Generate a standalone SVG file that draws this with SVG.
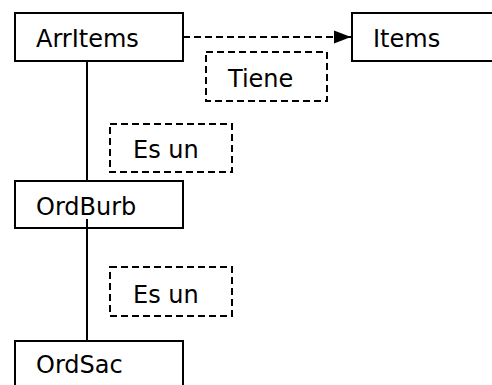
<svg xmlns="http://www.w3.org/2000/svg" width="492" height="385" viewBox="0 0 492 385">
<style>
.node rect{fill:#fff;stroke:#000;stroke-width:2}
.lbl rect{fill:none;stroke:#000;stroke-width:2;stroke-dasharray:7,4}
text{font-family:"DejaVu Sans",Verdana,sans-serif;font-size:24px;fill:#000}
.conn line{stroke:#000;stroke-width:2}
.conn .dash{stroke-dasharray:7,4}
</style>
<defs>
<marker id="arr" markerWidth="17" markerHeight="14" refX="17" refY="7" orient="auto" markerUnits="userSpaceOnUse">
<path d="M0,0.5 L17,7 L0,13.5 Z" fill="#000"/>
</marker>
</defs>
<g id="connectors" class="conn">
<line class="dash" x1="183" y1="37" x2="351" y2="37" marker-end="url(#arr)"/>
<line x1="87" y1="61" x2="87" y2="181"/>
<line x1="87" y1="219" x2="87" y2="341"/>
</g>
<g id="ArrItems" class="node"><rect x="15" y="13" width="168" height="48"/><text x="36" y="47">ArrItems</text></g>
<g id="Items" class="node"><rect x="352" y="13" width="168" height="48"/><text x="373" y="47">Items</text></g>
<g id="OrdBurb" class="node"><rect x="15" y="181" width="168" height="47"/><text x="36" y="215">OrdBurb</text></g>
<line x1="87" y1="219" x2="87" y2="228" stroke="#000" stroke-width="2"/>
<g id="OrdSac" class="node"><rect x="15" y="341" width="168" height="48"/><text x="36" y="373">OrdSac</text></g>
<g id="lbl-tiene" class="lbl"><rect x="206" y="52" width="121" height="49"/><text x="228" y="87">Tiene</text></g>
<g id="lbl-esun1" class="lbl"><rect x="110" y="124" width="122" height="48"/><text x="133" y="158">Es un</text></g>
<g id="lbl-esun2" class="lbl"><rect x="110" y="267" width="122" height="49"/><text x="133" y="303">Es un</text></g>
</svg>
